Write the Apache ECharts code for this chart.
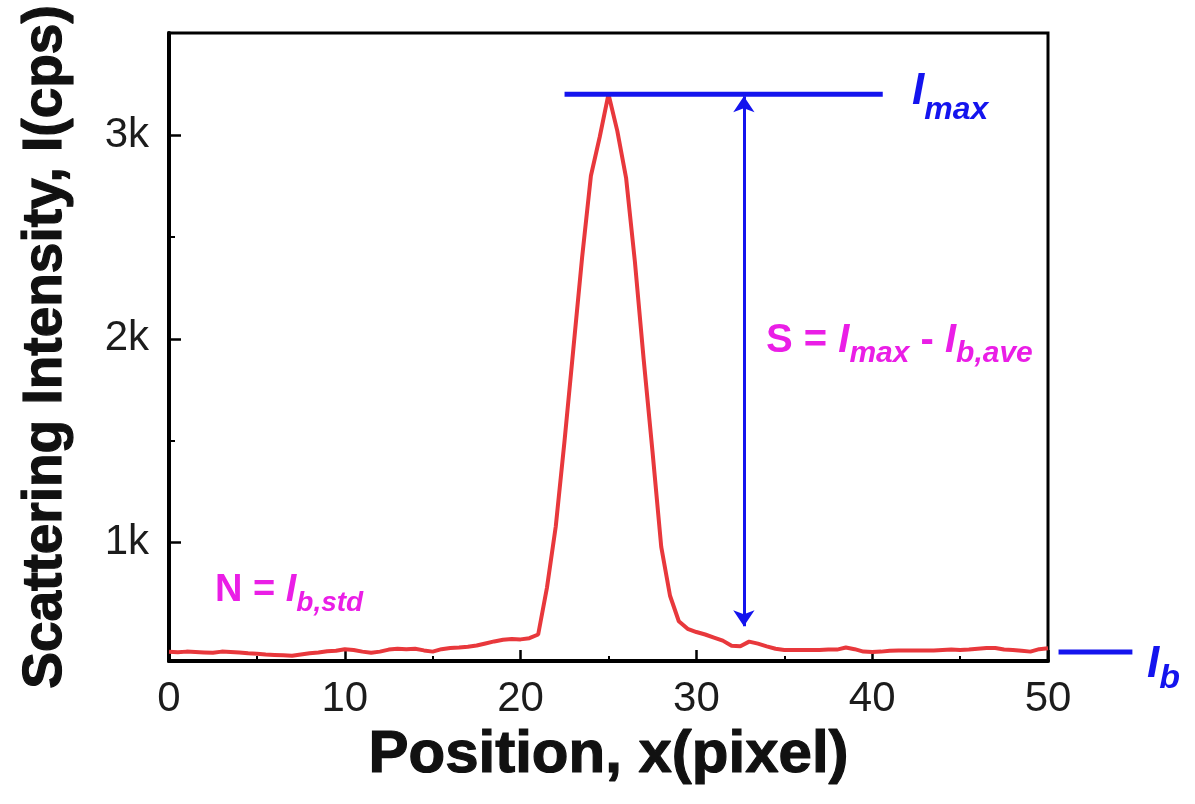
<!DOCTYPE html>
<html>
<head>
<meta charset="utf-8">
<title>Scattering intensity profile</title>
<script src="https://cdn.jsdelivr.net/npm/echarts/dist/echarts.min.js"></script>
<style>
  html, body { margin: 0; padding: 0; background: #fff; }
  #chart { width: 1195px; height: 804px; }
</style>
</head>
<body>
<div id="chart"></div>
<script>
// line profile across the spot: position (pixel) vs intensity (cps)
const positions = [
  0, 0.5, 1, 1.5, 2, 2.5, 3, 3.5, 4, 4.5, 5, 5.5, 6, 6.5, 7, 7.5, 8, 8.5, 9, 9.5,
  10, 10.5, 11, 11.5, 12, 12.5, 13, 13.5, 14, 14.5, 15, 15.5, 16, 16.5, 17, 17.5, 18, 18.5, 19, 19.5,
  20, 20.5, 21, 21.5, 22, 22.5, 23, 23.5, 24, 24.5, 25, 25.5, 26, 26.5, 27, 27.5, 28, 28.5, 29, 29.5,
  30, 30.5, 31, 31.5, 32, 32.5, 33, 33.5, 34, 34.5, 35, 35.5, 36, 36.5, 37, 37.5, 38, 38.5, 39, 39.5,
  40, 40.5, 41, 41.5, 42, 42.5, 43, 43.5, 44, 44.5, 45, 45.5, 46, 46.5, 47, 47.5, 48, 48.5, 49, 49.5, 50
]
const intensity = [
  465, 463, 466, 464, 462, 460, 466, 464, 462, 458, 456, 452, 450, 448, 446, 452, 458, 462, 468, 470,
  478, 474, 466, 460, 466, 476, 480, 478, 480, 472, 466, 478, 484, 486, 490, 496, 506, 516, 524, 528,
  526, 532, 550, 780, 1080, 1500, 1950, 2400, 2800, 2990, 3200, 3020, 2790, 2380, 1900, 1450, 980, 740, 615, 578,
  562, 550, 535, 520, 495, 492, 515, 505, 492, 480, 474, 474, 474, 474, 474, 476, 476, 486, 478, 466,
  464, 466, 470, 472, 472, 472, 472, 472, 474, 476, 474, 476, 480, 484, 484, 476, 474, 470, 466, 478, 482
]

// annotation marks, in data units
const imaxLine = [[22.5, 3200], [40.6, 3200]]
const ibLine = [[50.6, 464], [54.8, 464]]
const signalArrow = [[32.7, 3190], [32.7, 590]]

const yLabelValues = [1000, 2000, 3000]
const yMajorTicks = [1000, 2000, 3000]
const yMinorTicks = [1500, 2500]

const FONT = '"Liberation Sans", Arial, sans-serif'
const BLUE = '#1414ee'
const MAGENTA = '#ea1ee6'

const chart = echarts.init(document.getElementById('chart'))

// lay out a run of text pieces (normal, italic, subscript) left to right
const ctx = document.createElement('canvas').getContext('2d')
function textRun(parts, x0, baseline, color) {
  const els = []
  let x = x0
  parts.forEach(p => {
    const font = (p.it ? 'italic ' : '') + 'bold ' + p.s + 'px ' + FONT
    ctx.font = font
    const base = baseline + (p.sub || 0)
    els.push({
      type: 'text',
      x: x,
      y: base - 0.32 * p.s,
      silent: true,
      style: {
        text: p.t,
        font: font,
        fill: color,
        align: 'left',
        verticalAlign: 'middle',
        textAlign: 'left',
        textVerticalAlign: 'middle'
      }
    })
    x += ctx.measureText(p.t).width
  })
  return els
}

const labels = [].concat(
  textRun([{ t: 'I', s: 44, it: true }, { t: 'max', s: 32, it: true, sub: 14 }], 912, 106, BLUE),
  textRun([
    { t: 'S = ', s: 40 },
    { t: 'I', s: 40, it: true },
    { t: 'max', s: 30, it: true, sub: 9 },
    { t: ' - ', s: 40 },
    { t: 'I', s: 40, it: true },
    { t: 'b,ave', s: 30, it: true, sub: 9 }
  ], 766, 354, MAGENTA),
  textRun([
    { t: 'N = ', s: 38 },
    { t: 'I', s: 38, it: true },
    { t: 'b,std', s: 28, it: true, sub: 9 }
  ], 215, 603, MAGENTA),
  textRun([{ t: 'I', s: 44, it: true }, { t: 'b', s: 34, it: true, sub: 11 }], 1147, 679, BLUE)
)

const titleStyle = size => ({
  fontFamily: FONT,
  fontSize: size,
  fontWeight: 'bold',
  color: '#111',
  textBorderColor: '#111',
  textBorderWidth: 1.2
})

const option = {
  backgroundColor: '#fff',
  animation: false,
  grid: {
    left: 169,
    right: 147,
    top: 33,
    bottom: 143,
    show: true,
    borderColor: '#000',
    borderWidth: 3
  },
  xAxis: {
    type: 'value',
    min: 0,
    max: 50,
    interval: 10,
    name: 'Position, x(pixel)',
    nameLocation: 'middle',
    nameGap: 60,
    nameTextStyle: titleStyle(60),
    axisLine: { lineStyle: { color: '#000', width: 4 } },
    axisTick: { inside: true, length: 11, lineStyle: { color: '#000', width: 2.5 } },
    minorTick: { show: true, splitNumber: 2, length: 5, lineStyle: { color: '#000', width: 2 } },
    axisLabel: { fontFamily: FONT, fontSize: 42, color: '#1c1c1c', margin: 17 },
    splitLine: { show: false }
  },
  yAxis: [{
    type: 'value',
    min: 420,
    max: 3500,
    name: 'Scattering Intensity, I(cps)',
    nameLocation: 'middle',
    nameRotate: 90,
    nameGap: 96,
    nameTextStyle: titleStyle(55),
    axisLine: { lineStyle: { color: '#000', width: 4 } },
    axisTick: { inside: true, length: 12, customValues: yMajorTicks, lineStyle: { color: '#000', width: 2.5 } },
    axisLabel: {
      customValues: yLabelValues,
      formatter: v => (v / 1000) + 'k',
      fontFamily: FONT,
      fontSize: 42,
      color: '#1c1c1c',
      margin: 20
    },
    splitLine: { show: false }
  }, {
    type: 'value',
    min: 420,
    max: 3500,
    position: 'left',
    axisLine: { show: false },
    axisTick: { inside: true, length: 6, customValues: yMinorTicks, lineStyle: { color: '#000', width: 2 } },
    axisLabel: { show: false },
    splitLine: { show: false }
  }],
  series: [{
    name: 'profile',
    type: 'line',
    data: positions.map((x, i) => [x, intensity[i]]),
    showSymbol: false,
    symbol: 'none',
    z: 3,
    lineStyle: { color: '#e8383c', width: 4 }
  }, {
    name: 'Imax',
    type: 'line',
    data: imaxLine,
    symbol: 'none',
    clip: false,
    z: 4,
    lineStyle: { color: BLUE, width: 5 },
    markLine: {
      silent: true,
      symbol: ['arrow', 'arrow'],
      symbolSize: 16,
      label: { show: false },
      lineStyle: { color: BLUE, width: 3, type: 'solid' },
      data: [[{ coord: signalArrow[0] }, { coord: signalArrow[1] }]]
    }
  }],
  graphic: labels
}

chart.setOption(option)

// the background marker sits right of the plot, outside the axis range
const ibPx = ibLine.map(p => chart.convertToPixel({ gridIndex: 0 }, p))
chart.setOption({
  graphic: labels.concat([{
    type: 'line',
    silent: true,
    shape: { x1: ibPx[0][0], y1: ibPx[0][1], x2: ibPx[1][0], y2: ibPx[1][1] },
    style: { stroke: BLUE, lineWidth: 5 }
  }])
})
</script>
</body>
</html>
